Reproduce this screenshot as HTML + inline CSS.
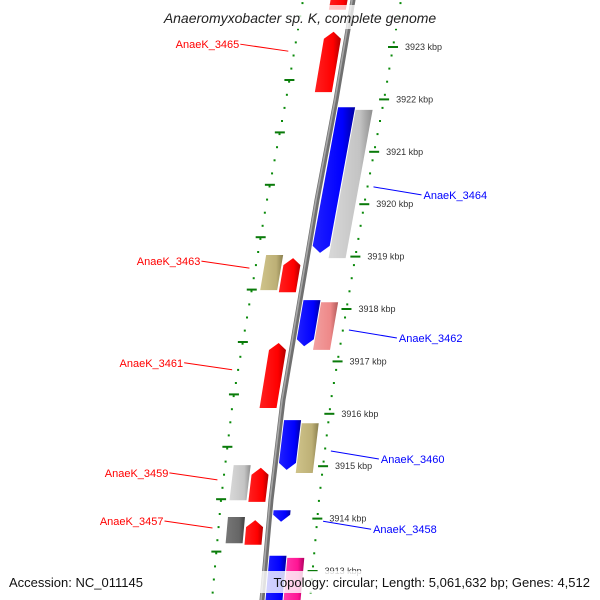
<!DOCTYPE html>
<html><head><meta charset="utf-8"><style>
html,body{margin:0;padding:0;background:#fff;}
svg{display:block;font-family:"Liberation Sans","DejaVu Sans",sans-serif;}
</style></head><body>
<svg id="map" width="600" height="600" viewBox="0 0 600 600" xmlns="http://www.w3.org/2000/svg">
<defs>
<linearGradient id="g-red" x1="0" x2="1"><stop offset="0" stop-color="#ff2020"/><stop offset="0.7" stop-color="#ff0000"/><stop offset="1" stop-color="#b00000"/></linearGradient>
<linearGradient id="g-blue" x1="0" x2="1"><stop offset="0" stop-color="#2020ff"/><stop offset="0.7" stop-color="#0000ff"/><stop offset="1" stop-color="#0000a0"/></linearGradient>
<linearGradient id="g-gray" x1="0" x2="1"><stop offset="0" stop-color="#d8d8d8"/><stop offset="0.7" stop-color="#c4c4c4"/><stop offset="1" stop-color="#8e8e8e"/></linearGradient>
<linearGradient id="g-dgray" x1="0" x2="1"><stop offset="0" stop-color="#777"/><stop offset="0.7" stop-color="#666"/><stop offset="1" stop-color="#404040"/></linearGradient>
<linearGradient id="g-khaki" x1="0" x2="1"><stop offset="0" stop-color="#cfc38a"/><stop offset="0.7" stop-color="#bdb076"/><stop offset="1" stop-color="#8a7f4e"/></linearGradient>
<linearGradient id="g-salmon" x1="0" x2="1"><stop offset="0" stop-color="#f2a0a0"/><stop offset="0.7" stop-color="#ee8888"/><stop offset="1" stop-color="#b05a5a"/></linearGradient>
<linearGradient id="g-magenta" x1="0" x2="1"><stop offset="0" stop-color="#ff40b0"/><stop offset="0.7" stop-color="#ff1493"/><stop offset="1" stop-color="#b00060"/></linearGradient>
</defs>
<g id="layer"></g>
<rect x="145" y="5" width="310" height="24" fill="#fff" opacity="0.75"/>
<text x="300" y="23" text-anchor="middle" font-size="14" font-style="italic" fill="#222">Anaeromyxobacter sp. K, complete genome</text>
<rect x="5" y="571" width="145" height="22" fill="#fff" opacity="0.8"/>
<text x="9" y="587" font-size="13" fill="#111">Accession: NC_011145</text>
<rect x="258" y="571" width="337" height="22" fill="#fff" opacity="0.8"/>
<text x="590" y="587" text-anchor="end" font-size="13" fill="#111">Topology: circular; Length: 5,061,632 bp; Genes: 4,512</text>
</svg>
<script>
const geneStart = [3924.28,3923.29,3921.85,3921.80,3919.03,3918.97,3918.17,3918.13,3917.35,3915.88,3915.82,3915.02,3914.97,3914.16,3914.03,3913.97,3913.29,3913.25];
const geneEnd   = [3923.71,3922.14,3919.07,3918.97,3918.36,3918.32,3917.29,3917.22,3916.11,3914.93,3914.87,3914.35,3914.32,3913.94,3913.53,3913.50,3912.26,3912.26];
const geneLane  = [-14,-14,12,30,-33,-14,12,30,-14,12,30,-33,-14,12,-33,-14,12,30];
const geneColor = ['red','red','blue','gray','khaki','red','blue','salmon','red','blue','khaki','gray','red','blue','dgray','red','blue','magenta'];
const geneArrow = ['up','up','down','none','none','up','down','none','up','down','none','none','up','down','none','up','down','none'];
const tickKbp = [3923,3922,3921,3920,3919,3918,3917,3916,3915,3914,3913];
const labelNames = ['AnaeK_3465','AnaeK_3463','AnaeK_3461','AnaeK_3459','AnaeK_3457','AnaeK_3464','AnaeK_3462','AnaeK_3460','AnaeK_3458'];
const labelKbp   = [3922.92,3918.78,3916.84,3914.74,3913.82,3920.33,3917.60,3915.29,3913.95];
const labelSide  = ['L','L','L','L','L','R','R','R','R'];

const NS='http://www.w3.org/2000/svg';
const layer=document.getElementById('layer');
function yOf(k){return 47+(3923-k)*52.4;}
const bbY=[-50,0,100,200,300,400,500,600,650],bbX=[362,353,336,317,300,283,271,262,258];
function xOf(y){for(let i=0;i<bbY.length-1;i++){if(y<=bbY[i+1]||i==bbY.length-2){const t=(y-bbY[i])/(bbY[i+1]-bbY[i]);return bbX[i]+t*(bbX[i+1]-bbX[i]);}}}
function mk(tag,attrs){const e=document.createElementNS(NS,tag);for(const a in attrs)e.setAttribute(a,attrs[a]);layer.appendChild(e);return e;}

[-50,48].forEach((off,si)=>{
  for(let y=-10;y<610;y+=13.1){
    const e=mk('rect',{x:xOf(y)+off-1,y:y-1,width:2,height:2,fill:'#0a8a0a'});
    
    
  }
});
tickKbp.forEach((k,i)=>{
  const y=yOf(k),x=xOf(y)+48;
  const t=mk('rect',{x:x-5,y:y-1,width:10,height:2,fill:'#0a7a0a'});
  
  
  const tx=mk('text',{x:x+12,y:y+3,'font-size':9,fill:'#333'});
  tx.textContent=k+' kbp';
  
  
  const y2=y+33,x2=xOf(y2)-50;
  const t2=mk('rect',{x:x2-5,y:y2-1,width:10,height:2,fill:'#0a7a0a'});
  
  
});
let pts=[];for(let y=-10;y<=610;y+=10)pts.push(xOf(y)+','+y);
const b1=mk('polyline',{points:pts.join(' '),fill:'none',stroke:'#707070','stroke-width':5});


const b2=mk('polyline',{points:pts.join(' '),fill:'none',stroke:'#a8a8a8','stroke-width':1.6,transform:'translate(-1,0)'});


geneStart.forEach((s,i)=>{
  const y0=yOf(s),y1=yOf(geneEnd[i]),o=geneLane[i],w=17,h=7;
  const c0=xOf(y0)+o,c1=xOf(y1)+o;
  let p;
  if(geneArrow[i]==='down'){
    const ym=y1-h,cm=xOf(ym)+o;
    p=[[c0-w/2,y0],[c0+w/2,y0],[cm+w/2,ym],[c1,y1],[cm-w/2,ym]];
  }else if(geneArrow[i]==='up'){
    const ym=y0+h,cm=xOf(ym)+o;
    p=[[c0,y0],[cm+w/2,ym],[c1+w/2,y1],[c1-w/2,y1],[cm-w/2,ym]];
  }else{
    p=[[c0-w/2,y0],[c0+w/2,y0],[c1+w/2,y1],[c1-w/2,y1]];
  }
  const g=mk('polygon',{points:p.map(q=>q.join(',')).join(' '),fill:'url(#g-'+geneColor[i]+')'});
  
  
});
labelNames.forEach((n,i)=>{
  const y=yOf(labelKbp[i]);
  const col=labelSide[i]==='L'?'#f00':'#00f';
  if(labelSide[i]==='L'){
    const xe=xOf(y)-56;
    const l=mk('line',{x1:xe-48,y1:y-7,x2:xe,y2:y,stroke:col,'stroke-width':1});
    
    
    const t=mk('text',{x:xe-49,y:y-3,'text-anchor':'end','font-size':11,fill:col});
    t.textContent=n;
    
    
  }else{
    const xs=xOf(y)+54;
    const l=mk('line',{x1:xs,y1:y,x2:xs+48,y2:y+8,stroke:col,'stroke-width':1});
    
    
    const t=mk('text',{x:xs+50,y:y+12,'font-size':11,fill:col});
    t.textContent=n;
    
    
  }
});
</script>
</body></html>
